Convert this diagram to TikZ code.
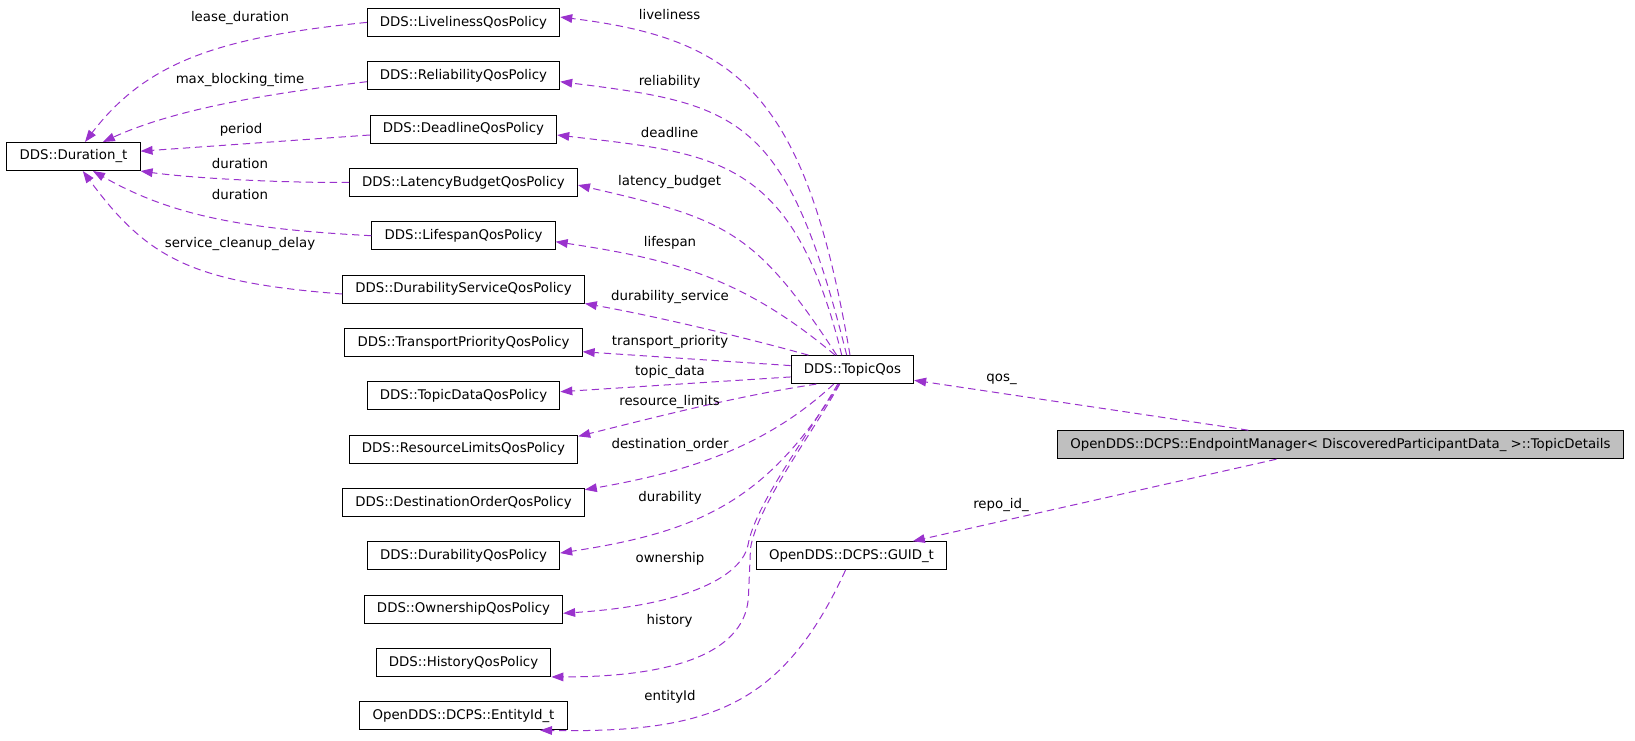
\documentclass[tikz,border=0pt]{standalone}
\usepackage{fontspec}
\setmainfont{DejaVu Sans}
\usetikzlibrary{arrows.meta}
\definecolor{usecol}{RGB}{154,50,205}
\definecolor{rootfill}{RGB}{191,191,191}

\begin{document}
\begin{tikzpicture}
	[x=0.75pt, y=-0.75pt, font=\fontsize{10}{12}\selectfont,
	cls/.style={draw=black, line width=0.75pt, rectangle, minimum height=21pt, inner xsep=9.5pt, inner ysep=0pt},
	root/.style={cls, fill=rootfill},
	dep/.style={draw=usecol, line width=0.75pt, dash pattern=on 5.5pt off 3.5pt, -{Triangle[length=9pt,width=6.5pt]}},
	lbl/.style={inner sep=0pt}]
	\useasboundingbox (0,0) rectangle (1635,740);
	\node[cls] (duration) at (73.5,156.5) {DDS::Duration\_t};
	\node[cls] (liveliness) at (463.5,22.4) {DDS::LivelinessQosPolicy};
	\node[cls] (reliability) at (463.5,75.7) {DDS::ReliabilityQosPolicy};
	\node[cls] (deadline) at (463.5,129) {DDS::DeadlineQosPolicy};
	\node[cls] (latency) at (463.5,182.4) {DDS::LatencyBudgetQosPolicy};
	\node[cls] (lifespan) at (463.5,235.7) {DDS::LifespanQosPolicy};
	\node[cls] (durserv) at (463.5,289) {DDS::DurabilityServiceQosPolicy};
	\node[cls] (transport) at (463.5,342.4) {DDS::TransportPriorityQosPolicy};
	\node[cls] (topicdata) at (463.5,395.7) {DDS::TopicDataQosPolicy};
	\node[cls] (reslimits) at (463.5,449) {DDS::ResourceLimitsQosPolicy};
	\node[cls] (destorder) at (463.5,502.4) {DDS::DestinationOrderQosPolicy};
	\node[cls] (durability) at (463.5,555.7) {DDS::DurabilityQosPolicy};
	\node[cls] (ownership) at (463.5,609) {DDS::OwnershipQosPolicy};
	\node[cls] (history) at (463.5,662.4) {DDS::HistoryQosPolicy};
	\node[cls] (entityid) at (463.5,715.8) {OpenDDS::DCPS::EntityId\_t};
	\node[cls] (topicqos) at (852.4,369.6) {DDS::TopicQos};
	\node[cls] (guid) at (851.5,555.7) {OpenDDS::DCPS::GUID\_t};
	\node[root] (topicdetails) at (1340.4,444.7) {OpenDDS::DCPS::EndpointManager< DiscoveredParticipantData\_ >::TopicDetails};

	\draw[dep] (liveliness.west) .. controls (217,37.4) and (146,62.5) .. ([xshift=8.6pt]duration.north);
	\draw[dep] ([yshift=-4.5pt]reliability.west) .. controls (268,93.7) and (175,109) .. ([xshift=22pt]duration.north);
	\draw[dep] ([yshift=-4.5pt]deadline.west) -- ([yshift=4pt]duration.east);
	\draw[dep] (latency.west) .. controls (280,183) and (190,178) .. (duration.south east);
	\draw[dep] (lifespan.west) .. controls (242,229) and (171,215.4) .. ([xshift=14.6pt]duration.south);
	\draw[dep] ([yshift=-3.75pt]durserv.west) .. controls (193,282.3) and (148,259.5) .. ([xshift=7pt]duration.south);

	\draw[dep] ([xshift=-1.8pt]topicqos.north) .. controls (806,96) and (740,39) .. ([yshift=4pt]liveliness.east);
	\draw[dep] ([xshift=-4.3pt]topicqos.north) .. controls (787,116) and (740,104) .. ([yshift=-4.5pt]reliability.east);
	\draw[dep] ([xshift=-8pt]topicqos.north) .. controls (793,156) and (715,153.6) .. ([yshift=-4.5pt]deadline.east);
	\draw[dep] ([xshift=-11.8pt]topicqos.north) .. controls (755,230) and (725.5,219) .. ([yshift=-2pt]latency.east);
	\draw[dep] ([xshift=-13pt]topicqos.north) .. controls (743,278) and (674,259.5) .. ([yshift=-4.5pt]lifespan.east);
	\draw[dep] ([xshift=-33pt]topicqos.north) .. controls (741,336.4) and (652.6,315.6) .. (durserv.south east);
	\draw[dep] ([yshift=3pt]topicqos.west) -- ([yshift=-7pt]transport.east);
	\draw[dep] ([yshift=-5.5pt]topicqos.west) -- ([yshift=3pt]topicdata.east);
	\draw[dep] ([xshift=-27pt]topicqos.south) .. controls (737,396) and (656,417) .. ([yshift=9.5pt]reslimits.east);
	\draw[dep] ([xshift=-14pt]topicqos.south) .. controls (768,445) and (693,471) .. ([yshift=9.5pt]destorder.east);
	\draw[dep] ([xshift=-10pt]topicqos.south) .. controls (766,502.7) and (697,532) .. ([yshift=2pt]durability.east);
	\draw[dep] ([xshift=-11pt]topicqos.south) .. controls (805,440) and (755,505) .. (748,545) .. controls (742,575) and (690,605) .. ([yshift=-3.2pt]ownership.east);
	\draw[dep] ([xshift=-9.5pt]topicqos.south) .. controls (808,440) and (758,505) .. (750.5,548) -- (748.5,595) .. controls (747,650) and (680,677) .. (history.south east);
	\draw[dep] ([xshift=-4.5pt]guid.south) .. controls (782.5,706.5) and (710,733) .. ([xshift=57.4pt]entityid.south);
	\draw[dep] ([xshift=-69pt]topicdetails.north) -- ([yshift=-8pt]topicqos.east);
	\draw[dep] ([xshift=-48pt]topicdetails.south) -- ([xshift=46pt]guid.north);

	\node[lbl] (lleasedur) at (240,18.4) {lease\_duration};
	\node[lbl] (lmaxblock) at (240,80) {max\_blocking\_time};
	\node[lbl] (lperiod) at (241,130) {period};
	\node[lbl] (ldurlat) at (240,163.3) {duration};
	\node[lbl] (ldurlife) at (240,195) {duration};
	\node[lbl] (lcleanup) at (240,244.3) {service\_cleanup\_delay};
	\node[lbl] (llive) at (669.6,14.5) {liveliness};
	\node[lbl] (lreli) at (669.6,81.4) {reliability};
	\node[lbl] (ldead) at (669.6,133) {deadline};
	\node[lbl] (llat) at (669.6,181.7) {latency\_budget};
	\node[lbl] (llife) at (670,243) {lifespan};
	\node[lbl] (ldurserv) at (670,296.7) {durability\_service};
	\node[lbl] (ltrans) at (670,342.3) {transport\_priority};
	\node[lbl] (ltopdata) at (670,372) {topic\_data};
	\node[lbl] (lreslim) at (669.6,401.9) {resource\_limits};
	\node[lbl] (ldestord) at (670,445.2) {destination\_order};
	\node[lbl] (ldurab) at (670,497.9) {durability};
	\node[lbl] (lowner) at (670,558.5) {ownership};
	\node[lbl] (lhist) at (669.6,620.7) {history};
	\node[lbl] (lentity) at (670,696.6) {entityId};
	\node[lbl] (lqos) at (1001.6,379.8) {qos\_};
	\node[lbl] (lrepo) at (1001,504.5) {repo\_id\_};
\end{tikzpicture}
\end{document}
